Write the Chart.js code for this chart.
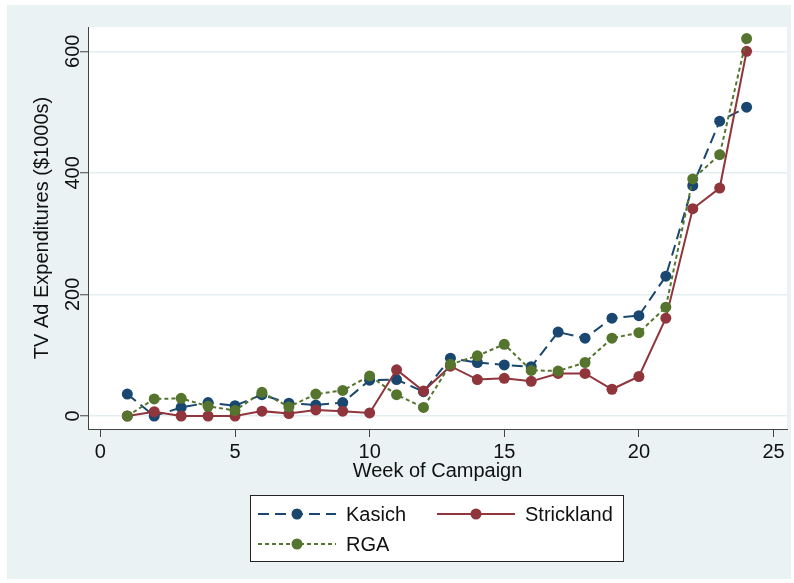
<!DOCTYPE html>
<html>
<head>
<meta charset="utf-8">
<title>TV Ad Expenditures by Week</title>
<script src="https://cdn.jsdelivr.net/npm/chart.js@4.4.1/dist/chart.umd.min.js"></script>
<style>
  html, body { margin: 0; padding: 0; background: #ffffff; }
  #wrap { width: 794px; height: 583px; }
</style>
</head>
<body>
<div id="wrap"><canvas id="c" width="794" height="583"></canvas></div>
<script>
// Week of campaign
const weeks = [1, 2, 3, 4, 5, 6, 7, 8, 9, 10, 11, 12, 13, 14, 15, 16, 17, 18, 19, 20, 21, 22, 23, 24];

// TV ad spending per week, $1000s
const kasich     = [36, 0, 14, 22, 17, 35, 21, 18, 22, 59, 60, 40, 95, 88, 84, 81, 138, 128, 161, 165, 230, 379, 485, 508];
const strickland = [0, 7, 0, 0, 0, 8, 4, 10, 8, 5, 76, 41, 82, 60, 62, 57, 70, 70, 44, 65, 161, 341, 375, 600];
const rga        = [0, 28, 29, 16, 9, 39, 15, 36, 42, 66, 35, 14, 85, 99, 118, 75, 74, 88, 128, 137, 179, 390, 430, 621];

// Axis ticks
const xTicks = [0, 5, 10, 15, 20, 25];
const yTicks = [0, 200, 400, 600];

const FONT = "'Liberation Sans', Arial, sans-serif";
const INK = '#111111';
const AXIS = '#444444';

const pts = vals => weeks.map((w, i) => ({ x: w, y: vals[i] }));

// Light graph region with a white plot area
const backdrop = {
  id: 'backdrop',
  beforeDraw(chart) {
    const { ctx, chartArea: a, width, height } = chart;
    ctx.save();
    ctx.fillStyle = '#ffffff';
    ctx.fillRect(0, 0, width, height);
    ctx.fillStyle = '#EAF2F3';
    ctx.fillRect(7, 5, width - 10, height - 9);
    ctx.fillStyle = '#ffffff';
    ctx.fillRect(a.left, a.top, a.right - a.left, a.bottom - a.top);
    ctx.restore();
  }
};

// Boxed key: line sample with marker, two columns
const keyBox = {
  id: 'keyBox',
  afterDraw(chart) {
    const ctx = chart.ctx;
    const box = { x: 250.5, y: 495.5, w: 373, h: 66 };
    const slots = [[0, 0], [1, 0], [0, 1]];
    const colX = [258, 437];
    const rowY = [514, 544];
    const sampleW = 78;
    ctx.save();
    ctx.fillStyle = '#ffffff';
    ctx.fillRect(box.x, box.y, box.w, box.h);
    ctx.strokeStyle = '#222222';
    ctx.lineWidth = 1;
    ctx.setLineDash([]);
    ctx.strokeRect(box.x, box.y, box.w, box.h);
    chart.data.datasets.forEach((ds, i) => {
      const [c, r] = slots[i];
      const x0 = colX[c], y = rowY[r];
      ctx.strokeStyle = ds.borderColor;
      ctx.lineWidth = ds.borderWidth;
      ctx.setLineDash(ds.borderDash || []);
      ctx.beginPath();
      ctx.moveTo(x0, y);
      ctx.lineTo(x0 + sampleW, y);
      ctx.stroke();
      ctx.setLineDash([]);
      ctx.fillStyle = ds.pointBackgroundColor;
      ctx.beginPath();
      ctx.arc(x0 + sampleW / 2, y, ds.pointRadius, 0, Math.PI * 2);
      ctx.fill();
      ctx.fillStyle = INK;
      ctx.font = '20px ' + FONT;
      ctx.textBaseline = 'middle';
      ctx.textAlign = 'left';
      ctx.fillText(ds.label, x0 + sampleW + 10, y + 1);
    });
    ctx.restore();
  }
};

const series = (label, vals, color, dash, order) => ({
  label,
  data: pts(vals),
  borderColor: color,
  backgroundColor: color,
  pointBackgroundColor: color,
  pointBorderColor: color,
  pointBorderWidth: 0,
  pointRadius: 5.5,
  borderWidth: 2,
  borderDash: dash,
  tension: 0,
  fill: false,
  order
});

new Chart(document.getElementById('c'), {
  type: 'line',
  data: {
    datasets: [
      series('Kasich', kasich, '#1A476F', [11, 6], 3),
      series('Strickland', strickland, '#90353B', [], 2),
      series('RGA', rga, '#55752F', [4, 3], 1)
    ]
  },
  options: {
    responsive: false,
    animation: false,
    events: [],
    devicePixelRatio: 1,
    layout: { padding: { left: 0, top: 27, right: 7, bottom: 100 } },
    plugins: {
      legend: { display: false },
      tooltip: { enabled: false }
    },
    scales: {
      x: {
        type: 'linear',
        min: -0.46,
        max: 25.5,
        afterBuildTicks: s => { s.ticks = xTicks.map(v => ({ value: v })); },
        afterFit: s => { s.height = 54; },
        grid: { drawOnChartArea: false, drawTicks: true, tickLength: 8, tickColor: AXIS, tickWidth: 1 },
        border: { display: true, color: AXIS, width: 1 },
        ticks: { font: { family: FONT, size: 20 }, color: INK, padding: 3, maxRotation: 0, minRotation: 0 },
        title: { display: true, text: 'Week of Campaign', font: { family: FONT, size: 20 }, color: INK, padding: { top: 0, bottom: 0 } }
      },
      y: {
        type: 'linear',
        min: -21.4,
        max: 640,
        afterBuildTicks: s => { s.ticks = yTicks.map(v => ({ value: v })); },
        afterFit: s => { s.width = 88; },
        grid: { color: '#E4EDF0', lineWidth: 1.5, drawTicks: true, tickLength: 8, tickColor: AXIS, tickWidth: 1 },
        border: { display: true, color: AXIS, width: 1 },
        ticks: { font: { family: FONT, size: 20 }, color: INK, minRotation: 90, maxRotation: 90, crossAlign: 'center', padding: -10 },
        title: { display: true, text: 'TV Ad Expenditures ($1000s)', font: { family: FONT, size: 20 }, color: INK, padding: { top: 30, bottom: 0 } }
      }
    }
  },
  plugins: [backdrop, keyBox]
});
</script>
</body>
</html>
